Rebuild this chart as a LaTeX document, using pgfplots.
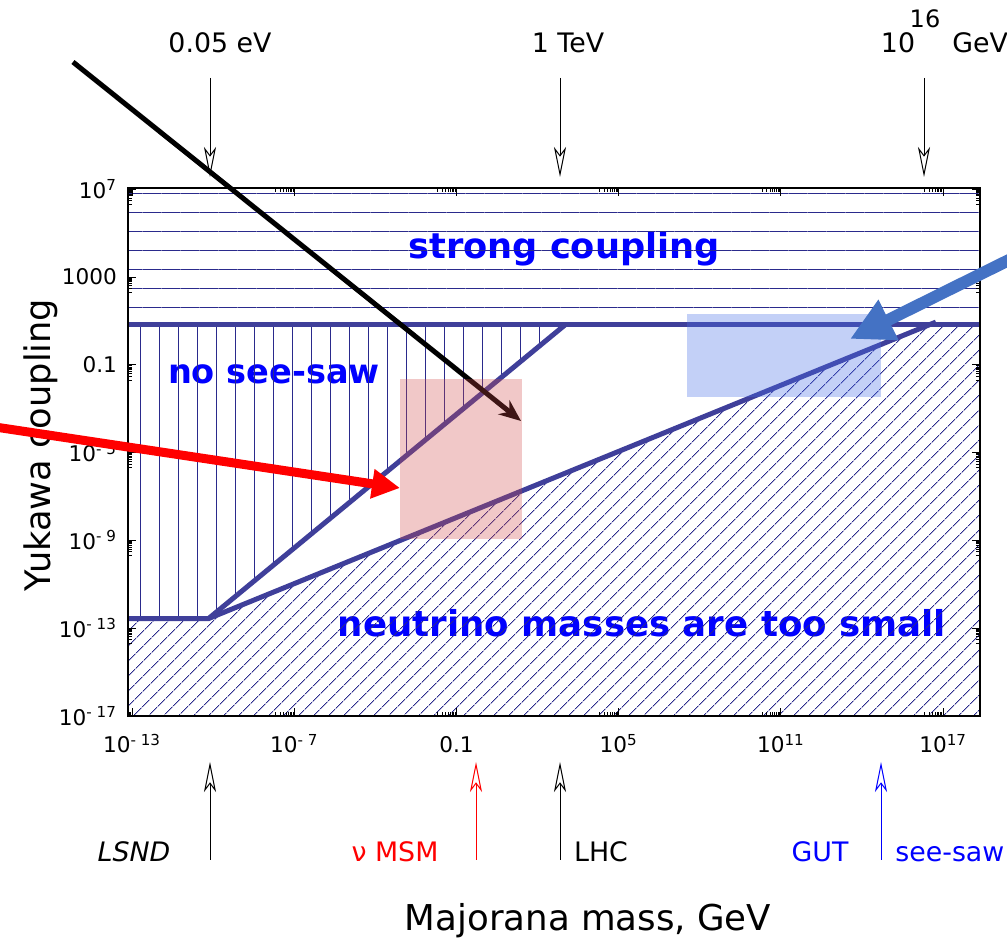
\documentclass[border=0pt]{standalone}
\usepackage{fontspec}
\setmainfont{DejaVu Sans}
\usepackage{pgfplots}
\pgfplotsset{compat=1.18}
\usetikzlibrary{arrows.meta,patterns.meta}

\definecolor{bound}{HTML}{3F3F9A}
\definecolor{hatch}{HTML}{2A2A8C}
\definecolor{pinkc}{HTML}{D04848}
\definecolor{rectblue}{HTML}{4A6FE8}
\definecolor{arrowblue}{HTML}{4472C4}

\newcommand{\tp}[1]{10\textsuperscript{#1}}

\begin{document}
\begin{tikzpicture}
\useasboundingbox (-64pt,-112pt) rectangle (439.5pt,358pt);

% texts under everything, in picture pixels
\begin{scope}[x=0.5pt,y=-0.5pt,shift={(-64pt,358pt)},every node/.style={inner sep=0pt}]
  \node[anchor=base, rotate=90, font=\fontsize{17.6}{20}\selectfont] at (50,445) {Yukawa coupling};
  \node[anchor=base, text=blue, font=\bfseries\fontsize{17.6}{20}\selectfont] at (564,259) {strong coupling};
  \node[anchor=base, text=blue, font=\bfseries\fontsize{16.8}{20}\selectfont] at (274,384) {no see-saw};
  \node[anchor=base, text=blue, font=\bfseries\fontsize{17.8}{20}\selectfont] at (642,637) {neutrino masses are too small};
\end{scope}

\begin{axis}[
  at={(0,0)}, anchor=south west,
  scale only axis, width=426pt, height=264pt,
  xmode=log, ymode=log,
  xmin=7.1e-14, xmax=2.3e18,
  ymin=1e-17, ymax=1.15e7,
  axis on top, clip=false,
  axis line style={line width=1.2pt},
  tick align=inside, xtick pos=both, ytick pos=both,
  major tick length=4pt, minor tick length=2pt,
  every tick/.style={black, line width=0.5pt},
  xtick={1e-13,1e-7,0.1,1e5,1e11,1e17},
  xticklabels={\tp{- 13},\tp{- 7},0.1,\tp{5},\tp{11},\tp{17}},
  ytick={1e-17,1e-13,1e-9,1e-5,0.1,1000,1e7},
  yticklabels={\tp{- 17},\tp{- 13},\tp{- 9},\tp{- 5},0.1,1000,\tp{7}},
  minor xtick={8e-14,9e-14,
    2e-8,3e-8,4e-8,5e-8,6e-8,7e-8,8e-8,9e-8,
    0.02,0.03,0.04,0.05,0.06,0.07,0.08,0.09,
    2e4,3e4,4e4,5e4,6e4,7e4,8e4,9e4,
    2e10,3e10,4e10,5e10,6e10,7e10,8e10,9e10,
    2e16,3e16,4e16,5e16,6e16,7e16,8e16,9e16},
  minor ytick={2e6,3e6,4e6,5e6,6e6,7e6,8e6,9e6,
    200,300,400,500,600,700,800,900,
    0.02,0.03,0.04,0.05,0.06,0.07,0.08,0.09,
    2e-6,3e-6,4e-6,5e-6,6e-6,7e-6,8e-6,9e-6,
    2e-10,3e-10,4e-10,5e-10,6e-10,7e-10,8e-10,9e-10,
    2e-14,3e-14,4e-14,5e-14,6e-14,7e-14,8e-14,9e-14},
  tick label style={font=\fontsize{10.8}{12}\selectfont},
  xticklabel style={anchor=base, yshift=-18.5pt},
  yticklabel style={xshift=-2pt},
]
% hatched regions
\addplot[draw=none, pattern={Lines[angle=0,distance=9.5pt,yshift=3pt,line width=0.45pt]}, pattern color=hatch]
  coordinates {(7.1e-14,6.7) (2.3e18,6.7) (2.3e18,1.15e7) (7.1e-14,1.15e7)} -- cycle;
\addplot[draw=none, pattern={Lines[angle=90,distance=9.5pt,xshift=3.5pt,line width=0.45pt]}, pattern color=hatch]
  coordinates {(7.1e-14,2.75e-13) (6.76e-11,2.75e-13) (1047,6.7) (7.1e-14,6.7)} -- cycle;
\addplot[draw=none, pattern={Lines[angle=45,distance=5.4pt,line width=0.42pt]}, pattern color=hatch]
  coordinates {(7.1e-14,1e-17) (7.1e-14,2.75e-13) (6.76e-11,2.75e-13) (3.0e16,6.7) (2.3e18,6.7) (2.3e18,1e-17)} -- cycle;

% boundaries
\addplot[bound, line width=2.5pt] coordinates {(7.1e-14,6.7) (2.3e18,6.7)};
\addplot[bound, line width=2.5pt] coordinates {(7.1e-14,2.75e-13) (6.76e-11,2.75e-13) (1047,6.7)};
\addplot[bound, line width=2.5pt] coordinates {(6.76e-11,2.75e-13) (5.37e16,8.9)};

% black arrow (under the pink box)
\draw[black, line width=2.5pt, -{Stealth[length=11pt,width=9pt]}]
  (rel axis cs:-0.0646,1.2386) -- (rel axis cs:0.4613,0.5587);

% shaded boxes
\addplot[draw=none, fill=pinkc, fill opacity=0.3]
  coordinates {(8.5e-4,1.12e-9) (27.5,1.12e-9) (27.5,0.0229) (8.5e-4,0.0229)} -- cycle;
\addplot[draw=none, fill=rectblue, fill opacity=0.33]
  coordinates {(3.3e7,3.46e-3) (5.0e14,3.46e-3) (5.0e14,21.3) (3.3e7,21.3)} -- cycle;
\end{axis}

% annotations, in picture pixels
\begin{scope}[x=0.5pt,y=-0.5pt,shift={(-64pt,358pt)},every node/.style={inner sep=0pt},
  thinarr/.style={line width=0.5pt, -{Stealth[open,length=15pt,width=6pt,inset=4pt]}}]
  \draw[red, line width=4.5pt, -{Triangle[length=14pt,width=14pt]}] (-5,427) -- (400,488);
  \draw[arrowblue, line width=6pt, -{Triangle[length=21.5pt,width=21pt]}] (1015,257) -- (850,339);

  \draw[thinarr] (210,78) -- (210,177);
  \draw[thinarr] (560,78) -- (560,177);
  \draw[thinarr] (924,78) -- (924,177);
  \draw[thinarr] (210,860) -- (210,762);
  \draw[thinarr, red] (476,860) -- (476,762);
  \draw[thinarr] (560,860) -- (560,762);
  \draw[thinarr, blue] (881,860) -- (881,762);

  \begin{scope}[every node/.append style={font=\fontsize{13.4}{16}\selectfont}]
    \node[anchor=base] at (220,53) {0.05 eV};
    \node[anchor=base] at (568,53) {1 TeV};
    \node[anchor=base] at (898,53) {10};
    \node[anchor=base, font=\fontsize{12}{14}\selectfont] at (925,28) {16};
    \node[anchor=base west] at (952,53) {GeV};

    \node[anchor=base, font=\itshape\fontsize{13.4}{16}\selectfont] at (134,862) {LSND};
    \node[anchor=base, text=red] at (395,862) {ν MSM};
    \node[anchor=base] at (601,862) {LHC};
    \node[anchor=base, text=blue] at (820,862) {GUT};
    \node[anchor=base west, text=blue] at (895,862) {see-saw};
  \end{scope}
  \node[anchor=base, font=\fontsize{17.8}{20}\selectfont] at (588,931) {Majorana mass, GeV};
\end{scope}
\end{tikzpicture}
\end{document}
